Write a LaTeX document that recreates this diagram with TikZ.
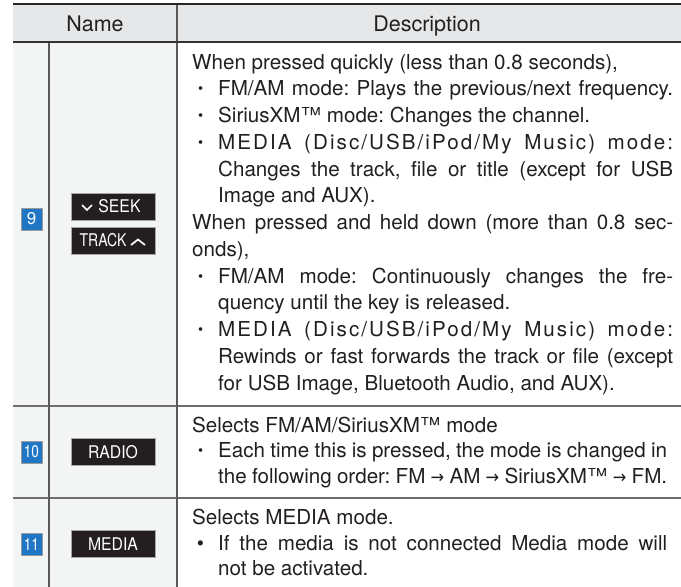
\documentclass[tikz,border=0pt]{standalone}
\usepackage{fontspec}
\setmainfont{TeX Gyre Heros}
\newfontfamily\symfont{DejaVu Sans}
\usetikzlibrary{calc}

\definecolor{ink}{HTML}{231F20}
\definecolor{hdrgray}{HTML}{E6E7E8}
\definecolor{namegray}{HTML}{F3F4F4}
\definecolor{rulegray}{HTML}{6E6E6E}
\definecolor{keyblack}{HTML}{231F20}
\definecolor{badgeblue}{HTML}{1F76C4}

\newcommand\bodyfont{\fontsize{20.6}{26.75}\selectfont\frenchspacing}
\newcommand\hdrfont{\fontsize{21.5}{26}\selectfont}
\newcommand\keyfont{\fontsize{17.5}{18}\selectfont}
\newcommand\badgefont{\fontsize{17}{17}\selectfont}
\newcommand\jl[2]{\makebox[#1pt][s]{#2}}
\newcommand\dotb{\llap{\raisebox{1.8pt}{\scalebox{0.7}{\textbullet}}\hspace{15pt}}}
\newcommand\bigb{\llap{\textbullet\hspace{14pt}}}
\newcommand\arr{\scalebox{0.9}[1]{\symfont\fontsize{18}{18}\selectfont →}}
\newcommand\spc{\addfontfeature{LetterSpace=10}}
\newcommand\keytxt[2]{\scalebox{#1}[1]{#2}}

\begin{document}
\begin{tikzpicture}[x=1pt,y=-1pt,
  line/.style={anchor=base west,inner sep=0pt,font=\bodyfont,text=ink},
  head/.style={anchor=base,inner sep=0pt,font=\hdrfont,text=ink},
  keybox/.style={fill=keyblack,draw=black!35,line width=0.8pt,minimum width=84pt,
    minimum height=27pt,inner sep=0pt,text=white,font=\keyfont},
  badge/.style={fill=badgeblue,draw=black!40,line width=0.8pt,minimum width=21pt,
    minimum height=22pt,inner sep=0pt,text=white,font=\badgefont}]
    \useasboundingbox (0,0) rectangle (681,587);
    \fill[white] (0,0) rectangle (681,587);

    \coordinate (tl) at (13,3.7);
    \coordinate (tr) at (681,3.7);
    \coordinate (hl) at (13,41.7);
    \coordinate (hr) at (681,41.7);
    \coordinate (c1) at (49,41.7);
    \coordinate (c1b) at (49,587);
    \coordinate (c2) at (177,3.7);
    \coordinate (c2b) at (177,587);

    \fill[hdrgray] (13,3) rectangle (681,41.7);
    \fill[namegray] (hl) rectangle (c2b);

    \draw[rulegray, line width=1.3pt] (13,406) -- (681,406);
    \draw[rulegray, line width=1.3pt] (13,498) -- (681,498);
    \draw[black!65, line width=1.1pt] (c1)--(c1b);
    \draw[black!65, line width=1.1pt] (c2)--(c2b);
    \draw[black!85, line width=2pt] (tl)--(tr);
    \draw[black!80, line width=1.6pt] (hl)--(hr);

    \node[head] (hname) at (95,31) {Name};
    \node[head] (hdesc) at (427,31) {Description};

    \node[badge] (k9) at (31.5,219) {9};
    \node[keybox] (seek) at (113,206.5) {\hspace*{13pt}\keytxt{0.9}{SEEK}};
    \node[keybox] (track) at (113,240.5) {\keytxt{0.8}{TRACK}\hspace*{20pt}};
    \draw[white, line width=1.7pt] ($(seek.center)+(-31,-1.5)$) -- ($(seek.center)+(-26,3.5)$) -- ($(seek.center)+(-21,-1.5)$);
    \draw[white, line width=1.7pt] ($(track.center)+(18,4.5)$) -- ($(track.center)+(25,-1)$) -- ($(track.center)+(32,4.5)$);

    \node[line] (q1) at (192,69) {When pressed quickly (less than 0.8 seconds),};
    \node[line] (q2) at (218,95.75) {\dotb\jl{455}{FM/AM mode: Plays the previous/next frequency.}};
    \node[line] (q3) at (218,122.5) {\dotb SiriusXM™ mode: Changes the channel.};
    \node[line] (q4) at (218,149.25) {\dotb\jl{455}{\spc MEDIA (Disc/USB/iPod/My Music) mode:}};
    \node[line] (q5) at (218,176) {\jl{455}{Changes the track, file or title (except for USB}};
    \node[line] (q6) at (218,202.75) {Image and AUX).};
    \node[line] (q7) at (192,229.5) {\jl{481}{When pressed and held down (more than 0.8 sec-}};
    \node[line] (q8) at (192,256.25) {onds),};
    \node[line] (q9) at (218,283) {\dotb\jl{455}{FM/AM mode: Continuously changes the fre-}};
    \node[line] (q10) at (218,309.75) {quency until the key is released.};
    \node[line] (q11) at (218,336.5) {\dotb\jl{455}{\spc MEDIA (Disc/USB/iPod/My Music) mode:}};
    \node[line] (q12) at (218,363.25) {\jl{455}{Rewinds or fast forwards the track or file (except}};
    \node[line] (q13) at (218,390) {for USB Image, Bluetooth Audio, and AUX).};

    \node[badge] (k10) at (31.5,452) {\scalebox{0.8}[1]{10}};
    \node[keybox] (radio) at (113,452) {\keytxt{0.9}{RADIO}};
    \node[line] (r1) at (192,432) {Selects FM/AM/SiriusXM™ mode};
    \node[line] (r2) at (218,457.5) {\dotb\jl{449}{Each time this is pressed, the mode is changed in}};
    \node[line] (r3) at (218,483) {\jl{449}{the following order: FM \arr{} AM \arr{} SiriusXM™ \arr{} FM.}};

    \node[badge] (k11) at (31.5,544) {\scalebox{0.8}[1]{11}};
    \node[keybox] (media) at (113,544) {\keytxt{0.9}{MEDIA}};
    \node[line] (m1) at (192,524.5) {Selects MEDIA mode.};
    \node[line] (m2) at (218,550) {\bigb\jl{449}{If the media is not connected Media mode will}};
    \node[line] (m3) at (218,575.5) {not be activated.};
\end{tikzpicture}
\end{document}
